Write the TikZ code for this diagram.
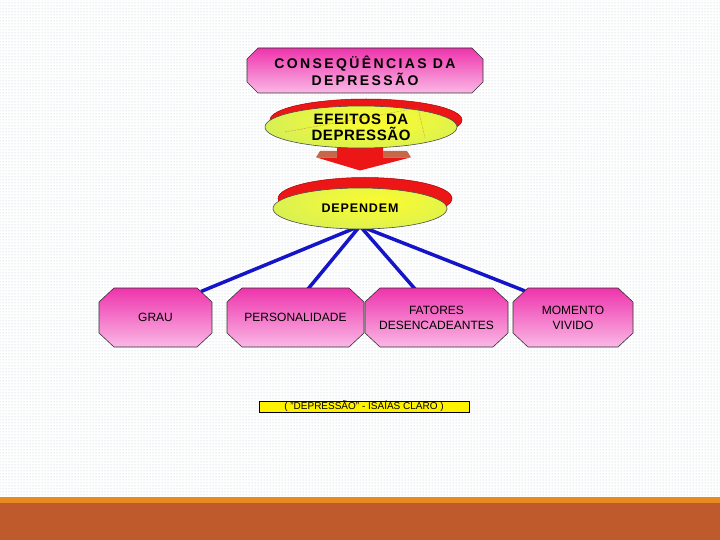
\documentclass[tikz,border=0pt]{standalone}
\usepackage{fontspec}
\setmainfont{Liberation Sans}
\newfontfamily\titlefont[LetterSpace=17]{Liberation Sans}
\newfontfamily\efeitofont[LetterSpace=4]{Liberation Sans}
\newfontfamily\dependfont[LetterSpace=7]{Liberation Sans}
\usetikzlibrary{patterns,shapes.geometric}
\definecolor{pinktop}{RGB}{238,52,172}
\definecolor{pinkbot}{RGB}{250,184,230}
\definecolor{elyellow}{RGB}{252,252,45}
\definecolor{elgreen}{RGB}{186,230,118}
\definecolor{shadowred}{RGB}{236,22,22}
\definecolor{linkblue}{RGB}{20,20,200}
\definecolor{bandorange}{RGB}{232,138,32}
\definecolor{bandbrown}{RGB}{191,90,45}
\definecolor{wingbrown}{RGB}{196,104,72}
\definecolor{dotcol}{RGB}{185,195,205}
% #1 name, #2 cx, #3 cy, #4 width, #5 height, #6 cut x, #7 cut y, #8 font, #9 text
\newcommand\chambox[9]{%
  \begin{scope}[shift={(#2,#3)}]
    \path[draw=black!80, line width=0.6pt, top color=pinktop, bottom color=pinkbot]
      ({-#4/2+#6},{-#5/2}) -- ({#4/2-#6},{-#5/2}) -- ({#4/2},{-#5/2+#7}) -- ({#4/2},{#5/2-#7})
      -- ({#4/2-#6},{#5/2}) -- ({-#4/2+#6},{#5/2}) -- ({-#4/2},{#5/2-#7}) -- ({-#4/2},{-#5/2+#7}) -- cycle;
    \node[inner sep=0pt, minimum width=#4pt, minimum height=#5pt, align=center, font=#8] (#1) at (0,0) {#9};
  \end{scope}}
% #1 cx, #2 cy, #3 rx, #4 ry : shaded oval body
\newcommand\ovalfill[4]{%
  \begin{scope}
    \clip (#1,#2) ellipse [x radius=#3pt, y radius=#4pt];
    \shade[inner color=elyellow, outer color=elgreen] ({#1+15},{#2-6}) ellipse [x radius=200pt, y radius=58pt];
  \end{scope}}
\tikzset{
  ovalbox/.style={ellipse, draw=black!70, line width=0.6pt, inner sep=0pt, align=center},
  link/.style={draw=linkblue, line width=3.5pt}
}
\begin{document}
\begin{tikzpicture}[x=1pt,y=-1pt]
\useasboundingbox (0,0) rectangle (720,540);
% background
\fill[white] (0,0) rectangle (720,497);
\fill[pattern=dots, pattern color=dotcol] (0,0) rectangle (720,495);
\fill[bandorange] (0,497) rectangle (720,503);
\fill[bandbrown] (0,503) rectangle (720,540);

% title
\chambox{title}{365}{70.5}{236}{45}{11}{11}{\titlefont\bfseries\fontsize{14}{17}\selectfont}{CONSEQÜÊNCIAS DA\\DEPRESSÃO}

% arrow
\fill[shadowred] (337,135) -- (383,135) -- (383,157.3) -- (411,157.3) -- (360,170.5) -- (316,157.3) -- (337,157.3) -- cycle;
\fill[wingbrown] (320,151) -- (337,151) -- (337,157.3) -- (316,157.3) -- cycle;
\fill[wingbrown] (383,151) -- (407,151) -- (411,157.3) -- (383,157.3) -- cycle;

% efeitos
\fill[shadowred, draw=red!70!black, line width=0.5pt] (366,120) ellipse [x radius=96pt, y radius=21pt];
\ovalfill{361}{127}{96}{21}
\node[ovalbox, minimum width=192pt, minimum height=42pt,
  font=\efeitofont\bfseries\fontsize{15}{16}\selectfont] (efeitos) at (361,127) {EFEITOS DA\\DEPRESSÃO};
\draw[densely dotted, wingbrown, line width=0.5pt] (285,132) -- (418,108) -- (425,138);

% links
\coordinate (hub) at (360,226);
\coordinate (grauend) at (201,291.5);
\coordinate (persend) at (308,289);
\coordinate (fatend) at (415,289);
\coordinate (momend) at (525,291);
\draw[link] (hub) -- (grauend);
\draw[link] (hub) -- (persend);
\draw[link] (hub) -- (fatend);
\draw[link] (hub) -- (momend);

% boxes
\chambox{grau}{155.5}{317.5}{113}{59}{15}{14}{\fontsize{12}{15}\selectfont}{GRAU}
\chambox{pers}{295.5}{317.5}{137}{59}{15}{14}{\fontsize{12}{15}\selectfont}{PERSONALIDADE}
\chambox{fat}{436.5}{317.5}{143}{59}{15}{14}{\fontsize{12}{15}\selectfont}{FATORES\\DESENCADEANTES}
\chambox{mom}{573}{317.5}{120}{59}{15}{14}{\fontsize{12}{15}\selectfont}{MOMENTO\\VIVIDO}

% dependem
\fill[shadowred, draw=red!70!black, line width=0.5pt] (365,198.5) ellipse [x radius=87pt, y radius=21pt];
\ovalfill{360}{208.5}{87}{20.5}
\node[ovalbox, minimum width=174pt, minimum height=41pt,
  font=\dependfont\bfseries\fontsize{12.5}{14}\selectfont] (dep) at (360,208.5) {DEPENDEM};

% source label
\node[draw=black, line width=0.7pt, fill=yellow, minimum width=210pt, minimum height=11pt, inner sep=0pt,
  font=\fontsize{10}{11}\selectfont] (src) at (364,406.5) {( "DEPRESSÃO" - ISAÍAS CLARO )};
\end{tikzpicture}
\end{document}
